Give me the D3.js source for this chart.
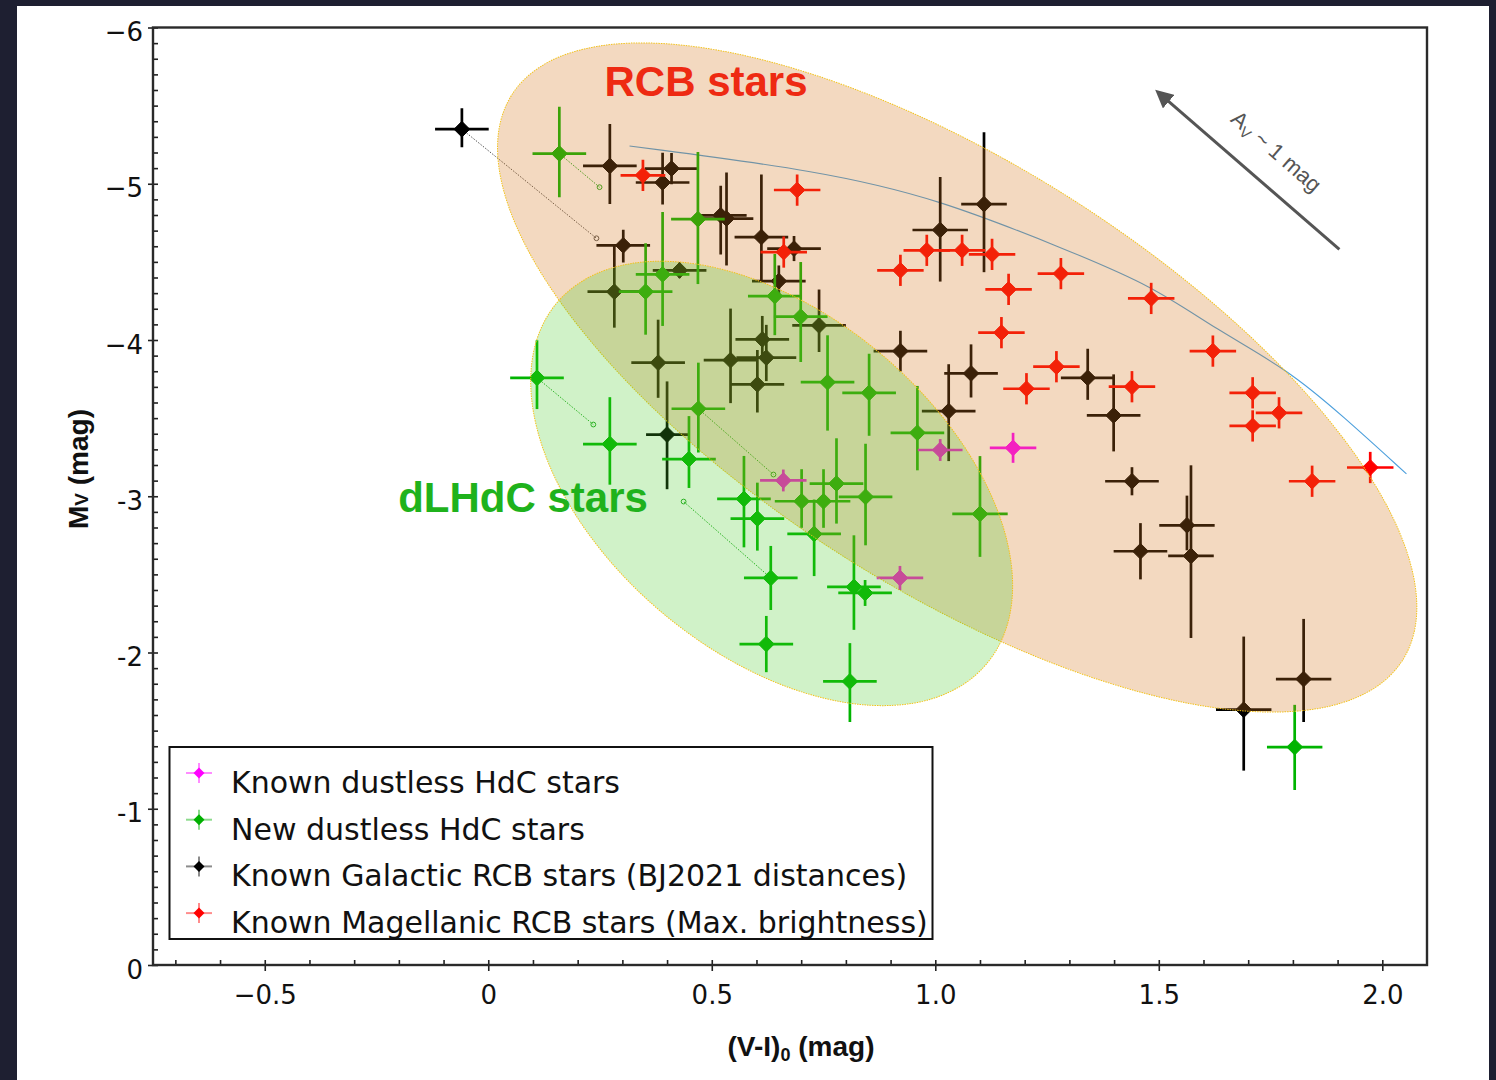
<!DOCTYPE html>
<html>
<head>
<meta charset="utf-8">
<script src="https://cdn.jsdelivr.net/npm/d3@7"></script>
<style>
  html, body { margin: 0; padding: 0; background: #1e1f31; }
  svg { display: block; }
</style>
</head>
<body>
<svg id="chart" width="1496" height="1080"></svg>
<script>
// ---- axis ticks ----
const xTicks = [-0.5, 0, 0.5, 1.0, 1.5, 2.0];
const xTickLabels = ["\u22120.5", "0", "0.5", "1.0", "1.5", "2.0"];
const yTicks = [-6, -5, -4, -3, -2, -1, 0];
const yTickLabels = ["\u22126", "\u22125", "\u22124", "-3", "-2", "-1", "0"];

// ---- stars: [ (V-I)0, Mv, err (V-I), err toward brighter Mv, err toward fainter Mv ] ----
const galacticRCB = [
  [-0.059, -5.349, 0.060, 0.135, 0.115],
  [0.272, -5.114, 0.060, 0.269, 0.243],
  [0.410, -5.097, 0.060, 0.100, 0.100],
  [0.390, -5.008, 0.060, 0.190, 0.140],
  [0.520, -4.798, 0.058, 0.190, 0.250],
  [0.533, -4.777, 0.060, 0.295, 0.300],
  [0.611, -4.659, 0.060, 0.400, 0.280],
  [0.684, -4.585, 0.060, 0.080, 0.080],
  [0.650, -4.377, 0.060, 0.100, 0.100],
  [0.302, -4.606, 0.060, 0.100, 0.110],
  [0.282, -4.309, 0.060, 0.300, 0.230],
  [0.428, -4.446, 0.060, 0.050, 0.050],
  [0.740, -4.093, 0.060, 0.230, 0.170],
  [0.380, -3.855, 0.060, 0.275, 0.225],
  [0.542, -3.871, 0.060, 0.330, 0.275],
  [0.613, -4.004, 0.060, 0.150, 0.120],
  [0.622, -3.887, 0.067, 0.210, 0.150],
  [0.602, -3.716, 0.060, 0.220, 0.180],
  [0.400, -3.395, 0.047, 0.340, 0.350],
  [0.922, -3.929, 0.060, 0.130, 0.130],
  [1.011, -4.704, 0.062, 0.340, 0.330],
  [1.109, -4.869, 0.051, 0.460, 0.435],
  [1.080, -3.786, 0.060, 0.186, 0.154],
  [1.030, -3.545, 0.060, 0.300, 0.320],
  [1.341, -3.758, 0.060, 0.186, 0.141],
  [1.399, -3.517, 0.060, 0.263, 0.230],
  [1.440, -3.096, 0.060, 0.090, 0.090],
  [1.563, -2.814, 0.062, 0.190, 0.160],
  [1.572, -2.618, 0.051, 0.580, 0.525],
  [1.459, -2.648, 0.060, 0.180, 0.180],
  [1.690, -1.634, 0.062, 0.468, 0.390],
  [1.824, -1.830, 0.062, 0.385, 0.275]
];

const magellanicRCB = [
  [0.346, -5.054, 0.050, 0.100, 0.100],
  [0.691, -4.960, 0.052, 0.100, 0.100],
  [0.661, -4.563, 0.052, 0.100, 0.100],
  [0.922, -4.446, 0.052, 0.100, 0.100],
  [0.981, -4.574, 0.052, 0.100, 0.100],
  [1.060, -4.574, 0.052, 0.100, 0.100],
  [1.127, -4.548, 0.052, 0.100, 0.100],
  [1.281, -4.425, 0.052, 0.100, 0.100],
  [1.164, -4.324, 0.052, 0.100, 0.100],
  [1.483, -4.266, 0.052, 0.100, 0.100],
  [1.148, -4.047, 0.052, 0.100, 0.100],
  [1.621, -3.929, 0.052, 0.100, 0.100],
  [1.271, -3.829, 0.052, 0.100, 0.100],
  [1.204, -3.688, 0.052, 0.100, 0.100],
  [1.440, -3.701, 0.052, 0.100, 0.100],
  [1.710, -3.662, 0.052, 0.100, 0.100],
  [1.769, -3.534, 0.052, 0.100, 0.100],
  [1.710, -3.450, 0.052, 0.100, 0.100],
  [1.843, -3.096, 0.052, 0.100, 0.100],
  [1.973, -3.184, 0.052, 0.100, 0.100]
];

const newHdC = [
  [0.159, -5.193, 0.060, 0.300, 0.280],
  [0.469, -4.773, 0.060, 0.430, 0.415],
  [0.390, -4.420, 0.060, 0.400, 0.330],
  [0.352, -4.309, 0.060, 0.310, 0.275],
  [0.641, -4.281, 0.060, 0.270, 0.250],
  [0.699, -4.149, 0.060, 0.350, 0.290],
  [0.109, -3.758, 0.060, 0.240, 0.200],
  [0.470, -3.560, 0.060, 0.295, 0.280],
  [0.272, -3.334, 0.060, 0.300, 0.260],
  [0.449, -3.238, 0.060, 0.275, 0.185],
  [0.759, -3.730, 0.060, 0.300, 0.310],
  [0.852, -3.662, 0.060, 0.250, 0.275],
  [0.960, -3.406, 0.060, 0.300, 0.240],
  [0.572, -2.983, 0.060, 0.275, 0.310],
  [0.602, -2.857, 0.060, 0.230, 0.205],
  [0.701, -2.968, 0.060, 0.205, 0.170],
  [0.750, -2.968, 0.060, 0.205, 0.170],
  [0.779, -3.081, 0.060, 0.290, 0.256],
  [0.844, -2.996, 0.060, 0.340, 0.310],
  [0.729, -2.759, 0.060, 0.220, 0.270],
  [1.100, -2.887, 0.062, 0.370, 0.275],
  [0.632, -2.477, 0.060, 0.205, 0.205],
  [0.818, -2.420, 0.060, 0.330, 0.275],
  [0.843, -2.381, 0.060, 0.083, 0.083],
  [0.622, -2.054, 0.060, 0.180, 0.180],
  [0.809, -1.815, 0.060, 0.245, 0.260],
  [1.804, -1.395, 0.062, 0.270, 0.275]
];

const knownHdC = [
  [0.660, -3.101, 0.052, 0.070, 0.070],
  [1.011, -3.296, 0.050, 0.070, 0.070],
  [1.174, -3.310, 0.052, 0.096, 0.096],
  [0.921, -2.477, 0.052, 0.077, 0.077]
];

// shifted positions: [x from, y from, x to, y to]
const galacticShifts = [[-0.059, -5.349, 0.242, -4.651]];
const hdcShifts = [
  [0.159, -5.193, 0.249, -4.978],
  [0.109, -3.758, 0.235, -3.459],
  [0.470, -3.560, 0.638, -3.139],
  [0.632, -2.477, 0.437, -2.966]
];

// thin reference curve
const curveX = [0.316, 0.744, 1.009, 1.292, 1.487, 1.628, 1.788, 1.912, 2.054];
const curveY = [-5.242, -5.082, -4.901, -4.580, -4.345, -4.068, -3.812, -3.513, -3.143];

// reddening vector (A_V ~ 1 mag)
const reddeningTail = [1.904, -4.580];
const reddeningHead = [1.498, -5.586];

const legendLabels = [
  "Known dustless HdC stars",
  "New dustless HdC stars",
  "Known Galactic RCB stars (BJ2021 distances)",
  "Known Magellanic RCB stars (Max. brightness)"
];
const legendColors = ["#ff00ff", "#00b000", "#000000", "#ff0000"];

// ---------------------------------------------------------------
const svg = d3.select("#chart");
const W = 1496, H = 1080;

svg.append("rect").attr("width", W).attr("height", H).attr("fill", "#1e1f31");
svg.append("rect").attr("x", 17).attr("y", 6).attr("width", 1472).attr("height", H - 6).attr("fill", "#ffffff");

const plot = { left: 153, right: 1427, top: 27.5, bottom: 965 };
const x = d3.scaleLinear().domain([-0.75, 2.1]).range([plot.left, plot.right]);
const y = d3.scaleLinear().domain([-6, 0]).range([plot.top, plot.bottom]);

const defs = svg.append("defs");
defs.append("clipPath").attr("id", "plotClip").append("rect")
  .attr("x", plot.left).attr("y", plot.top)
  .attr("width", plot.right - plot.left).attr("height", plot.bottom - plot.top);

const tickFont = "'DejaVu Sans', 'Lucida Grande', sans-serif";
const boldFont = "'Liberation Sans', Arial, Helvetica, sans-serif";

// ---- axes ----
const xMinor = d3.range(-7, 21).map(i => i / 10);
const yMinor = d3.range(-60, 1).map(i => i / 10);

const gxMinor = svg.append("g").attr("transform", `translate(0,${plot.bottom})`)
  .call(d3.axisBottom(x).tickValues(xMinor).tickSize(-5).tickFormat(""));
const gx = svg.append("g").attr("transform", `translate(0,${plot.bottom})`)
  .call(d3.axisBottom(x).tickValues(xTicks).tickSizeInner(6).tickSizeOuter(0).tickPadding(15)
    .tickFormat((d, i) => xTickLabels[i]));

const gyMinor = svg.append("g").attr("transform", `translate(${plot.left},0)`)
  .call(d3.axisLeft(y).tickValues(yMinor).tickSize(-5).tickFormat(""));
const gy = svg.append("g").attr("transform", `translate(${plot.left},0)`)
  .call(d3.axisLeft(y).tickValues(yTicks).tickSizeInner(5).tickSizeOuter(0).tickPadding(5)
    .tickFormat((d, i) => yTickLabels[i]));

[gx, gy, gxMinor, gyMinor].forEach(g => {
  g.select(".domain").remove();
  g.selectAll(".tick line").attr("stroke", "#222").attr("stroke-width", 1.6);
  g.selectAll(".tick text").attr("font-family", tickFont).attr("font-size", 26).attr("fill", "#111");
});
gy.selectAll(".tick text").attr("dy", "0.5em");

// axis titles
const xTitle = svg.append("text")
  .attr("x", 801).attr("y", 1056).attr("text-anchor", "middle")
  .attr("font-family", boldFont).attr("font-weight", "bold").attr("font-size", 28).attr("fill", "#111");
xTitle.append("tspan").text("(V-I)");
xTitle.append("tspan").attr("font-size", 18).attr("dy", 5).text("0");
xTitle.append("tspan").attr("dy", -5).text(" (mag)");

const yTitle = svg.append("text")
  .attr("transform", `translate(88,469) rotate(-90)`).attr("text-anchor", "middle")
  .attr("font-family", boldFont).attr("font-weight", "bold").attr("font-size", 28).attr("fill", "#111");
yTitle.append("tspan").text("M");
yTitle.append("tspan").attr("font-size", 19).text("V");
yTitle.append("tspan").text(" (mag)");

// ---- plotting area ----
const area = svg.append("g").attr("clip-path", "url(#plotClip)");

// reference curve
const curveLine = d3.line().x(d => x(d[0])).y(d => y(d[1])).curve(d3.curveBasis);
area.append("path")
  .datum(curveX.map((v, i) => [v, curveY[i]]))
  .attr("d", curveLine).attr("fill", "none").attr("stroke", "#4c9fdc").attr("stroke-width", 1.1);

// shift connectors
function drawShifts(list, color) {
  const g = area.append("g");
  g.selectAll("line").data(list).join("line")
    .attr("x1", d => x(d[0])).attr("y1", d => y(d[1]))
    .attr("x2", d => x(d[2])).attr("y2", d => y(d[3]))
    .attr("stroke", color).attr("stroke-width", 1).attr("stroke-dasharray", "1.5,1.5");
  g.selectAll("circle").data(list).join("circle")
    .attr("cx", d => x(d[2])).attr("cy", d => y(d[3])).attr("r", 2.4)
    .attr("fill", "none").attr("stroke", color).attr("stroke-width", 1);
}
drawShifts(galacticShifts, "#555555");
drawShifts(hdcShifts, "#22aa22");

// error-bar stars
const diamond = {
  draw(ctx, size) {
    const r = Math.sqrt(size / 2);
    ctx.moveTo(0, -r); ctx.lineTo(r, 0); ctx.lineTo(0, r); ctx.lineTo(-r, 0); ctx.closePath();
  }
};
function drawStars(data, color) {
  const g = area.append("g");
  g.selectAll("line.xe").data(data).join("line").attr("class", "xe")
    .attr("x1", d => x(d[0] - d[2])).attr("x2", d => x(d[0] + d[2]))
    .attr("y1", d => y(d[1])).attr("y2", d => y(d[1]))
    .attr("stroke", color).attr("stroke-width", 2.7);
  g.selectAll("line.ye").data(data).join("line").attr("class", "ye")
    .attr("x1", d => x(d[0])).attr("x2", d => x(d[0]))
    .attr("y1", d => y(d[1] - d[3])).attr("y2", d => y(d[1] + d[4]))
    .attr("stroke", color).attr("stroke-width", 2.7);
  g.selectAll("path").data(data).join("path")
    .attr("transform", d => `translate(${x(d[0])},${y(d[1])})`)
    .attr("d", d3.symbol(diamond, 124))
    .attr("fill", color).attr("stroke", color).attr("stroke-width", 1);
}
drawStars(galacticRCB, "#000000");
drawStars(magellanicRCB, "#ff0000");
drawStars(newHdC, "#00b400");
drawStars(knownHdC, "#ff00ff");

// reddening arrow
defs.append("marker").attr("id", "arrowHead").attr("viewBox", "0 0 10 10")
  .attr("refX", 8).attr("refY", 5).attr("markerWidth", 6).attr("markerHeight", 6)
  .attr("orient", "auto-start-reverse")
  .append("path").attr("d", "M0,0 L10,5 L0,10 Z").attr("fill", "#555");
area.append("line")
  .attr("x1", x(reddeningTail[0])).attr("y1", y(reddeningTail[1]))
  .attr("x2", x(reddeningHead[0])).attr("y2", y(reddeningHead[1]))
  .attr("stroke", "#555").attr("stroke-width", 3).attr("marker-end", "url(#arrowHead)");
const ang = Math.atan2(y(reddeningTail[1]) - y(reddeningHead[1]), x(reddeningTail[0]) - x(reddeningHead[0])) * 180 / Math.PI;
const avText = area.append("text")
  .attr("transform", `translate(${x(1.763)},${y(-5.208)}) rotate(${ang})`)
  .attr("text-anchor", "middle").attr("dy", "0.35em")
  .attr("font-family", boldFont).attr("font-size", 22).attr("fill", "#555");
avText.append("tspan").text("A");
avText.append("tspan").attr("font-size", 15).attr("dy", 4).text("V");
avText.append("tspan").attr("dy", -4).text(" ~ 1 mag");

// ---- translucent class regions (drawn over the stars) ----
const regions = [
  { cx: 1.049, cy: -3.760, rx: 527.5, ry: 212, angle: 32.4, fill: "rgb(212,120,30)", opacity: 0.28 },
  { cx: 0.634, cy: -3.082, rx: 280.6, ry: 169.4, angle: 40.0, fill: "rgb(68,204,36)", opacity: 0.25 }
];
regions.forEach(r => {
  const g = area.append("g")
    .attr("transform", `translate(${x(r.cx)},${y(r.cy)}) rotate(${r.angle})`);
  g.append("ellipse").attr("rx", r.rx).attr("ry", r.ry)
    .attr("fill", r.fill).attr("fill-opacity", r.opacity);
  g.append("ellipse").attr("rx", r.rx).attr("ry", r.ry)
    .attr("fill", "none").attr("stroke", "#f2c21c").attr("stroke-width", 1)
    .attr("stroke-dasharray", "1.5,1");
});

// region names
area.append("text").attr("x", x(0.26)).attr("y", y(-5.56))
  .attr("font-family", boldFont).attr("font-weight", "bold").attr("font-size", 42)
  .attr("fill", "#ee2a12").text("RCB stars");
area.append("text").attr("x", x(-0.2016)).attr("y", y(-2.902))
  .attr("font-family", boldFont).attr("font-weight", "bold").attr("font-size", 42)
  .attr("fill", "#1fb21c").text("dLHdC stars");

// ---- plot frame ----
svg.append("rect")
  .attr("x", plot.left).attr("y", plot.top)
  .attr("width", plot.right - plot.left).attr("height", plot.bottom - plot.top)
  .attr("fill", "none").attr("stroke", "#2a2a2a").attr("stroke-width", 2.4);

// ---- legend ----
const legend = svg.append("g");
legend.append("rect").attr("x", 169.5).attr("y", 747).attr("width", 763).attr("height", 192)
  .attr("fill", "#fff").attr("stroke", "#111").attr("stroke-width", 2);
const rows = legend.selectAll("g.row").data(legendLabels).join("g").attr("class", "row")
  .attr("transform", (d, i) => `translate(0,${793 + i * 46.7})`);
rows.append("line").attr("x1", 186).attr("x2", 212).attr("y1", -20).attr("y2", -20)
  .attr("stroke", (d, i) => legendColors[i]).attr("stroke-width", 2).attr("stroke-opacity", 0.45);
rows.append("line").attr("x1", 199).attr("x2", 199).attr("y1", -30).attr("y2", -10)
  .attr("stroke", (d, i) => legendColors[i]).attr("stroke-width", 2).attr("stroke-opacity", 0.45);
rows.append("path").attr("transform", "translate(199,-20)")
  .attr("d", d3.symbol(diamond, 60)).attr("fill", (d, i) => legendColors[i]);
rows.append("text").attr("x", 231).attr("y", 0)
  .attr("font-family", tickFont).attr("font-size", 30).attr("fill", "#111")
  .text(d => d);
</script>
</body>
</html>
